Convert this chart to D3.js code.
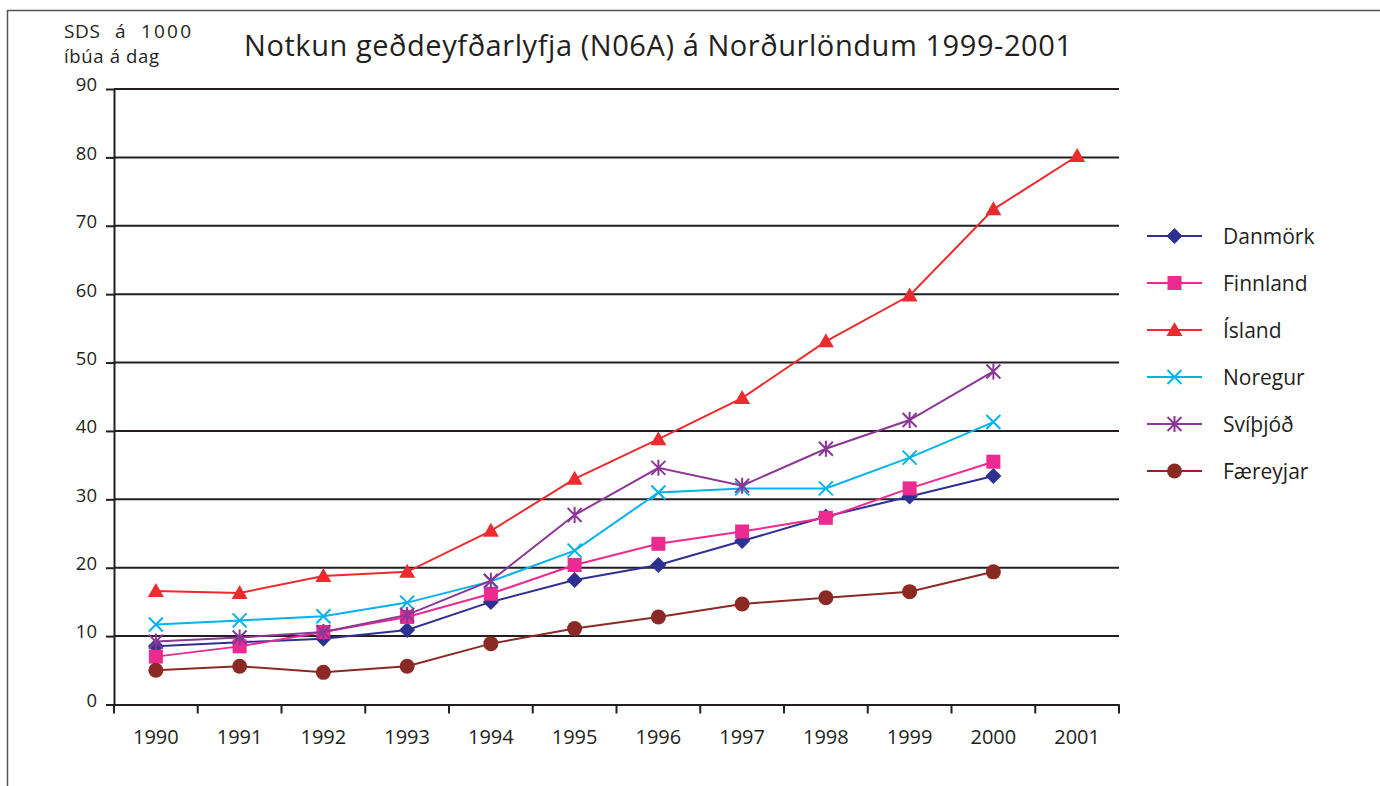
<!DOCTYPE html>
<html>
<head>
<meta charset="utf-8">
<script src="https://cdn.jsdelivr.net/npm/d3@7"></script>
<style>
	body { margin: 0; background: #fff; }
	#chart { width: 1380px; height: 786px; }
	text { font-family: "Open Sans", "Liberation Sans", Arial, sans-serif; fill: #231f20; }
</style>
</head>
<body>
<div id="chart"><svg width="1380" height="786"></svg></div>
<script>

// data
const years = [1990, 1991, 1992, 1993, 1994, 1995, 1996, 1997, 1998, 1999, 2000, 2001];
const yTicks = [0, 10, 20, 30, 40, 50, 60, 70, 80, 90];

const danmork   = [8.5, 9.1, 9.6, 10.9, 15.0, 18.2, 20.4, 23.9, 27.5, 30.4, 33.4, null];
const finnland  = [7.0, 8.5, 10.6, 12.8, 16.2, 20.4, 23.5, 25.3, 27.3, 31.6, 35.5, null];
const island    = [16.6, 16.3, 18.8, 19.4, 25.4, 33.0, 38.8, 44.8, 53.1, 59.8, 72.4, 80.2];
const noregur   = [11.7, 12.3, 12.9, 14.9, 18.0, 22.5, 31.0, 31.6, 31.6, 36.1, 41.3, null];
const svithjod  = [9.2, 9.8, 10.6, 13.1, 18.1, 27.7, 34.6, 32.0, 37.4, 41.6, 48.7, null];
const faereyjar = [5.0, 5.6, 4.7, 5.6, 8.9, 11.1, 12.8, 14.7, 15.6, 16.5, 19.4, null];

const seriesNames = ["Danmörk", "Finnland", "Ísland", "Noregur", "Svíþjóð", "Færeyjar"];
const seriesValues = [danmork, finnland, island, noregur, svithjod, faereyjar];
const seriesColors = ["#2e3192", "#ec2a8f", "#ed2b2f", "#00b3ef", "#8b3795", "#8b2a24"];
const seriesMarkers = ["diamond", "square", "triangle", "times", "asterisk", "circle"];

const series = seriesNames.map((name, i) => ({
	name: name,
	color: seriesColors[i],
	marker: seriesMarkers[i],
	values: years.map((year, j) => ({year: year, value: seriesValues[i][j]}))
}));

// setup
const svg = d3.select("#chart").select("svg");
const margin = {top: 89, left: 114, right: 261, bottom: 81};
const width = 1380;
const height = 786;

// frame
svg.append("rect")
	.attr("x", 7.5)
	.attr("y", 10.5)
	.attr("width", 1400)
	.attr("height", 800)
	.attr("fill", "none")
	.attr("stroke", "#555")
	.attr("stroke-width", 1.5);

// scales
const xScale = d3.scaleBand()
	.domain(years)
	.range([margin.left, width - margin.right]);

const yScale = d3.scaleLinear()
	.domain([0, 90])
	.range([height - margin.bottom - 0.5, margin.top]);

const xMid = d => xScale(d) + xScale.bandwidth() / 2;

// grid
svg.append("g")
	.selectAll("line")
	.data(yTicks.filter(d => d > 0))
	.join("line")
	.attr("x1", margin.left)
	.attr("x2", width - margin.right)
	.attr("y1", d => yScale(d))
	.attr("y2", d => yScale(d))
	.attr("stroke", "#231f20")
	.attr("stroke-width", 2);

// y axis
const yAxis = svg.append("g")
	.attr("class", "yAxis")
	.attr("transform", `translate(${margin.left}, 0)`)
	.call(d3.axisLeft(yScale)
		.tickValues(yTicks)
		.tickSize(8)
		.tickSizeOuter(0)
		.tickPadding(9)
	);

yAxis.select(".domain").attr("stroke", "#231f20").attr("stroke-width", 2);
yAxis.selectAll(".tick line").attr("stroke", "#231f20").attr("stroke-width", 2);
yAxis.selectAll(".tick text")
	.attr("font-size", 18.5)
	.attr("dy", "0.1em")
	.attr("fill", "#231f20");

// x axis
const xAxis = svg.append("g")
	.attr("class", "xAxis")
	.attr("transform", `translate(0, ${yScale(0)})`)
	.call(d3.axisBottom(xScale)
		.tickSize(0)
		.tickSizeOuter(0)
		.tickPadding(25)
	);

xAxis.select(".domain").attr("stroke", "#231f20").attr("stroke-width", 2);
xAxis.selectAll(".tick text")
	.attr("font-size", 20)
	.attr("fill", "#231f20");

// x ticks sit between the categories
xAxis.append("g")
	.selectAll("line")
	.data(years.map(d => xScale(d)).concat([xScale.range()[1]]))
	.join("line")
	.attr("x1", d => d)
	.attr("x2", d => d)
	.attr("y1", 0)
	.attr("y2", 9)
	.attr("stroke", "#231f20")
	.attr("stroke-width", 2);

// markers
function markerPath(type) {
	const r = 7;
	if (type === "diamond") return `M0,${-r - 1}L${r + 1},0L0,${r + 1}L${-r - 1},0Z`;
	if (type === "square") return `M${-r},${-r}H${r}V${r}H${-r}Z`;
	if (type === "triangle") return `M0,${-r - 1}L${r + 1},${r - 1}L${-r - 1},${r - 1}Z`;
	if (type === "times") return `M${-r},${-r}L${r},${r}M${r},${-r}L${-r},${r}`;
	if (type === "asterisk") return `M${-r},${-r}L${r},${r}M${r},${-r}L${-r},${r}M0,${-r - 1}V${r + 1}`;
	return d3.symbol(d3.symbolCircle, Math.PI * 7.5 * 7.5)();
}

const isStroke = type => type === "times" || type === "asterisk";

// lines
const line = d3.line()
	.defined(d => d.value !== null)
	.x(d => xMid(d.year))
	.y(d => yScale(d.value));

const plot = svg.append("g").attr("id", "plot");

series.forEach(s => {
	const g = plot.append("g");
	
	g.append("path")
		.datum(s.values)
		.attr("fill", "none")
		.attr("stroke", s.color)
		.attr("stroke-width", 2)
		.attr("d", line);
	
	g.selectAll(".marker")
		.data(s.values.filter(d => d.value !== null))
		.join("path")
		.attr("class", "marker")
		.attr("transform", d => `translate(${xMid(d.year)}, ${yScale(d.value)})`)
		.attr("d", markerPath(s.marker))
		.attr("fill", isStroke(s.marker) ? "none" : s.color)
		.attr("stroke", isStroke(s.marker) ? s.color : "none")
		.attr("stroke-width", 2);
});

// legend
const legend = svg.append("g")
	.attr("transform", "translate(1147, 236)");

const rows = legend.selectAll("g")
	.data(series)
	.join("g")
	.attr("transform", (d, i) => `translate(0, ${i * 47})`);

rows.append("line")
	.attr("x1", 0)
	.attr("x2", 55)
	.attr("stroke", d => d.color)
	.attr("stroke-width", 2);

rows.append("path")
	.attr("transform", "translate(27.5, 0)")
	.attr("d", d => markerPath(d.marker))
	.attr("fill", d => isStroke(d.marker) ? "none" : d.color)
	.attr("stroke", d => isStroke(d.marker) ? d.color : "none")
	.attr("stroke-width", 2);

rows.append("text")
	.attr("x", 76)
	.attr("dy", "0.36em")
	.attr("font-size", 21)
	.text(d => d.name);

// title and axis caption
svg.append("text")
	.attr("x", 244)
	.attr("y", 56)
	.attr("font-size", 29)
	.attr("textLength", 828)
	.attr("lengthAdjust", "spacing")
	.text("Notkun geðdeyfðarlyfja (N06A) á Norðurlöndum 1999-2001");

const caption = svg.append("g");

caption.selectAll("text")
	.data([{t: "SDS", x: 64, w: 36}, {t: "á", x: 115, w: 10}, {t: "1000", x: 141, w: 50}])
	.join("text")
	.attr("x", d => d.x)
	.attr("y", 38)
	.attr("font-size", 19)
	.attr("textLength", d => d.w)
	.attr("lengthAdjust", "spacing")
	.text(d => d.t);

svg.append("text")
	.attr("x", 64)
	.attr("y", 63)
	.attr("font-size", 18.5)
	.attr("textLength", 95)
	.attr("lengthAdjust", "spacing")
	.text("íbúa á dag");

</script>
</body>
</html>
